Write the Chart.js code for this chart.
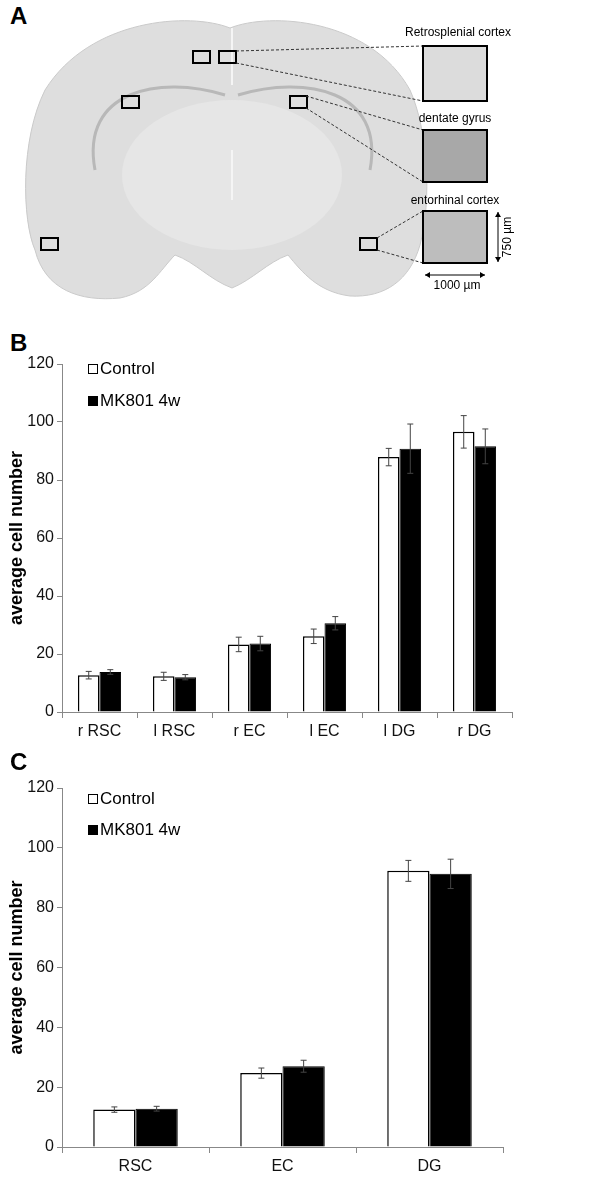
<!DOCTYPE html>
<html>
<head>
<meta charset="utf-8">
<script src="https://cdn.jsdelivr.net/npm/chart.js@4.4.1/dist/chart.umd.min.js"></script>
<style>
  body { margin: 0; background: #fff; font-family: "Liberation Sans", Arial, sans-serif; }
  #page { position: relative; width: 600px; height: 1181px; }
  .panel { position: absolute; left: 0; width: 600px; }
  .tag { position: absolute; left: 10px; font-weight: bold; font-size: 24px; }
</style>
</head>
<body>
<div id="page">
  <div class="tag" style="top:2px">A</div>
  <canvas id="brain" width="600" height="310" style="position:absolute;top:0;left:0"></canvas>
  <div class="tag" style="top:329px">B</div>
  <div class="panel" style="top:340px;height:410px"><canvas id="chartB"></canvas></div>
  <div class="tag" style="top:748px">C</div>
  <div class="panel" style="top:760px;height:421px"><canvas id="chartC"></canvas></div>
</div>
<script>
// Panel B: per hemisphere
const regionsB = ['r RSC', 'l RSC', 'r EC', 'l EC', 'l DG', 'r DG'];
const controlB = [12.7, 12.3, 23.3, 26.1, 87.9, 96.6];
const controlErrB = [1.3, 1.4, 2.5, 2.5, 3.0, 5.6];
const mk801B = [13.8, 12.0, 23.6, 30.6, 90.8, 91.6];
const mk801ErrB = [0.8, 0.9, 2.5, 2.3, 8.5, 6.0];

// Panel C: pooled
const regionsC = ['RSC', 'EC', 'DG'];
const controlC = [12.5, 24.7, 92.3];
const controlErrC = [0.9, 1.7, 3.5];
const mk801C = [12.8, 27.0, 91.3];
const mk801ErrC = [0.8, 2.0, 4.9];

const seriesNames = ['Control', 'MK801 4w'];
const yTicks = [0, 20, 40, 60, 80, 100, 120];

const FONT = '"Liberation Sans", Arial, sans-serif';

// error bars drawn at each bar's top
const errorBars = {
  id: 'errorBars',
  afterDatasetsDraw(chart, args, opts) {
    const ctx = chart.ctx;
    const y = chart.scales.y;
    ctx.save();
    ctx.strokeStyle = '#444';
    ctx.lineWidth = 1;
    chart.data.datasets.forEach((ds, i) => {
      const meta = chart.getDatasetMeta(i);
      meta.data.forEach((bar, j) => {
        const v = ds.data[j], e = opts.errors[i][j];
        const top = y.getPixelForValue(v + e);
        const bot = y.getPixelForValue(v - e);
        ctx.beginPath();
        ctx.moveTo(bar.x, top); ctx.lineTo(bar.x, bot);
        ctx.moveTo(bar.x - 3, top); ctx.lineTo(bar.x + 3, top);
        ctx.moveTo(bar.x - 3, bot); ctx.lineTo(bar.x + 3, bot);
        ctx.stroke();
      });
    });
    ctx.restore();
  }
};

// legend drawn inside the plot, top left
const innerLegend = {
  id: 'innerLegend',
  afterDraw(chart, args, opts) {
    const ctx = chart.ctx;
    const a = chart.chartArea;
    ctx.save();
    ctx.font = '17px ' + FONT;
    ctx.textBaseline = 'middle';
    chart.data.datasets.forEach((ds, i) => {
      const cy = a.top + opts.rows[i];
      const x = a.left + 26;
      ctx.fillStyle = ds.backgroundColor;
      ctx.fillRect(x, cy - 5, 10, 10);
      ctx.strokeStyle = '#000';
      ctx.lineWidth = 1;
      ctx.strokeRect(x + 0.5, cy - 4.5, 9, 9);
      ctx.fillStyle = '#000';
      ctx.fillText(ds.label, x + 12, cy);
    });
    ctx.restore();
  }
};

function makeChart(id, labels, control, mk, errs, pad, xHeight, rows) {
  return new Chart(document.getElementById(id), {
    type: 'bar',
    data: {
      labels: labels,
      datasets: [{
        label: seriesNames[0],
        data: control,
        backgroundColor: '#ffffff',
        borderColor: '#000000',
        borderWidth: 1.5,
      }, {
        label: seriesNames[1],
        data: mk,
        backgroundColor: '#000000',
        borderColor: '#000000',
        borderWidth: 1,
      }],
    },
    options: {
      responsive: true,
      maintainAspectRatio: false,
      animation: false,
      categoryPercentage: 0.575,
      barPercentage: 1.0,
      layout: { padding: pad },
      plugins: {
        legend: { display: false },
        tooltip: { enabled: false },
        errorBars: { errors: errs },
        innerLegend: { rows: rows },
      },
      scales: {
        x: {
          afterFit(scale) { scale.height = xHeight; },
          grid: { offset: true, drawOnChartArea: false, tickLength: 6, color: '#888' },
          border: { color: '#888', width: 1 },
          ticks: { color: '#111', padding: 4, font: { family: FONT, size: 16 } },
        },
        y: {
          min: 0,
          max: 120,
          afterFit(scale) { scale.width = 62; },
          afterBuildTicks(scale) { scale.ticks = yTicks.map(v => ({ value: v })); },
          grid: { drawOnChartArea: false, tickLength: 5, color: '#888' },
          border: { color: '#888', width: 1 },
          ticks: { color: '#111', padding: 3, font: { family: FONT, size: 16 } },
          title: {
            display: true,
            text: 'average cell number',
            color: '#000',
            padding: { top: 6, bottom: 0 },
            font: { family: FONT, size: 18, weight: 'bold' },
          },
        },
      },
    },
    plugins: [errorBars, innerLegend],
  });
}

makeChart('chartB', regionsB, controlB, mk801B, [controlErrB, mk801ErrB],
  { top: 24, right: 88, bottom: 0, left: 0 }, 38, [5, 37]);
makeChart('chartC', regionsC, controlC, mk801C, [controlErrC, mk801ErrC],
  { top: 28, right: 97, bottom: 0, left: 0 }, 34, [11, 42]);

// Panel A: rough sketch of the coronal section with sampled regions
(function drawBrain() {
  const c = document.getElementById('brain').getContext('2d');
  c.fillStyle = '#dedede';
  c.strokeStyle = '#cacaca';
  c.beginPath();
  c.moveTo(230, 28);
  c.bezierCurveTo(190, 12, 90, 18, 45, 90);
  c.bezierCurveTo(20, 140, 22, 220, 35, 250);
  c.bezierCurveTo(45, 290, 80, 302, 120, 298);
  c.bezierCurveTo(150, 292, 160, 270, 175, 255);
  c.bezierCurveTo(195, 262, 210, 280, 232, 288);
  c.bezierCurveTo(252, 280, 268, 262, 288, 255);
  c.bezierCurveTo(302, 272, 318, 292, 350, 296);
  c.bezierCurveTo(385, 298, 410, 280, 420, 245);
  c.bezierCurveTo(432, 200, 428, 130, 410, 90);
  c.bezierCurveTo(370, 18, 270, 12, 230, 28);
  c.closePath();
  c.fill();
  c.stroke();
  // inner lighter body
  c.fillStyle = '#e6e6e6';
  c.beginPath();
  c.ellipse(232, 175, 110, 75, 0, 0, Math.PI * 2);
  c.fill();
  // hippocampal arcs
  c.strokeStyle = '#b8b8b8';
  c.lineWidth = 3;
  c.beginPath();
  c.moveTo(225, 95);
  c.bezierCurveTo(160, 75, 80, 90, 95, 170);
  c.moveTo(238, 95);
  c.bezierCurveTo(305, 75, 385, 90, 370, 170);
  c.stroke();
  c.strokeStyle = '#f5f5f5';
  c.lineWidth = 2;
  c.beginPath();
  c.moveTo(232, 150); c.lineTo(232, 200);
  c.moveTo(232, 28); c.lineTo(232, 85);
  c.stroke();

  c.strokeStyle = '#000';
  c.lineWidth = 2;
  [[193, 51], [219, 51], [122, 96], [290, 96], [41, 238], [360, 238]].forEach(p => {
    c.strokeRect(p[0], p[1], 17, 12);
  });

  c.lineWidth = 1;
  c.strokeStyle = '#333';
  c.setLineDash([3, 2]);
  [[236, 51, 423, 46], [236, 63, 423, 101], [306, 96, 423, 130], [306, 108, 423, 182],
   [377, 238, 423, 211], [377, 250, 423, 263]].forEach(l => {
    c.beginPath(); c.moveTo(l[0], l[1]); c.lineTo(l[2], l[3]); c.stroke();
  });
  c.setLineDash([]);

  // insets
  [[423, 46, 101], [423, 130, 182], [423, 211, 263]].forEach((b, k) => {
    c.fillStyle = ['#dcdcdc', '#a8a8a8', '#bdbdbd'][k];
    c.fillRect(b[0], b[1], 64, b[2] - b[1]);
    c.strokeStyle = '#000';
    c.lineWidth = 2;
    c.strokeRect(b[0], b[1], 64, b[2] - b[1]);
  });

  c.fillStyle = '#000';
  c.font = '12px ' + FONT;
  c.textAlign = 'center';
  c.textBaseline = 'middle';
  c.fillText('Retrosplenial cortex', 458, 33);
  c.fillText('dentate gyrus', 455, 119);
  c.fillText('entorhinal cortex', 455, 201);
  c.fillText('1000 µm', 457, 286);
  c.save();
  c.translate(508, 237);
  c.rotate(-Math.PI / 2);
  c.fillText('750 µm', 0, 0);
  c.restore();

  // scale arrows
  c.strokeStyle = '#000';
  c.lineWidth = 1;
  c.beginPath();
  c.moveTo(425, 275); c.lineTo(485, 275);
  c.moveTo(498, 212); c.lineTo(498, 262);
  c.stroke();
  c.beginPath();
  c.moveTo(425, 275); c.lineTo(430, 272); c.lineTo(430, 278); c.closePath();
  c.moveTo(485, 275); c.lineTo(480, 272); c.lineTo(480, 278); c.closePath();
  c.moveTo(498, 212); c.lineTo(495, 217); c.lineTo(501, 217); c.closePath();
  c.moveTo(498, 262); c.lineTo(495, 257); c.lineTo(501, 257); c.closePath();
  c.fill();
})();
</script>
</body>
</html>
